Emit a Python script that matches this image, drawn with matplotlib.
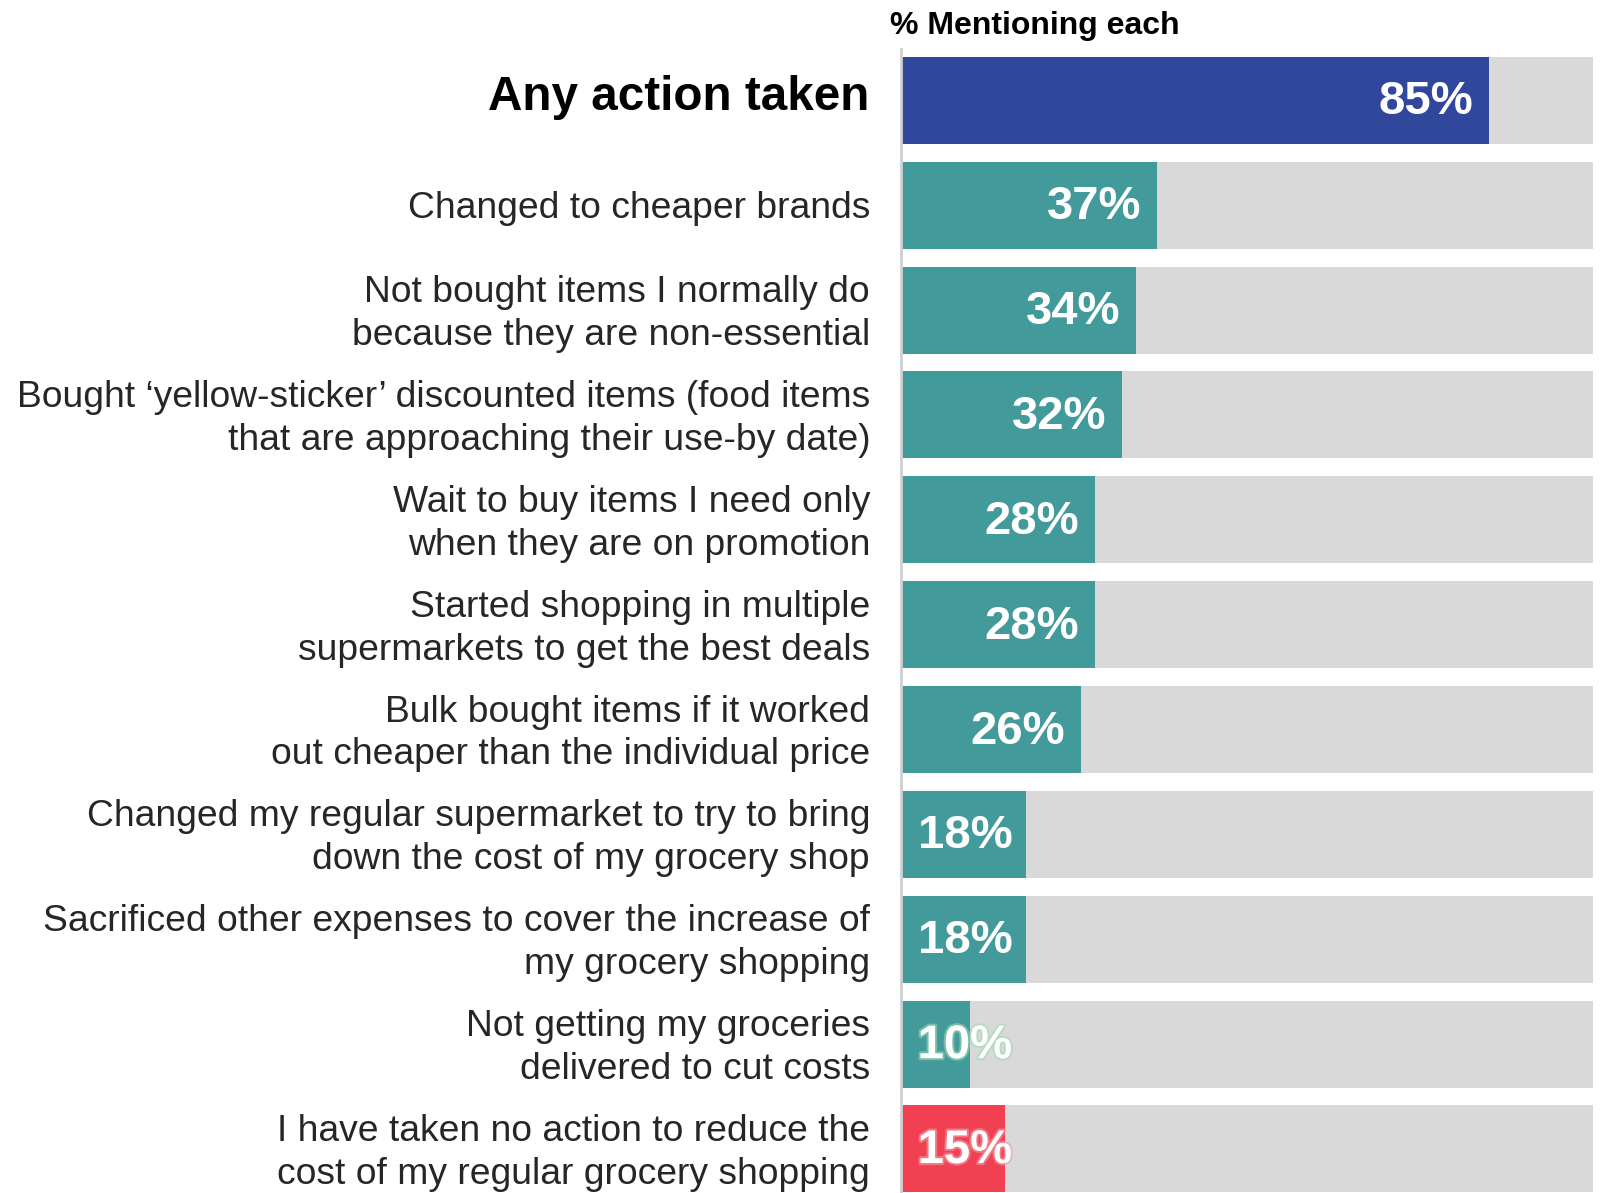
import matplotlib.pyplot as plt
import matplotlib.patheffects as pe
import numpy as np

plt.rcParams['font.family'] = ['Liberation Sans', 'DejaVu Sans']

labels = [
    'Any action taken',
    'Changed to cheaper brands',
    'Not bought items I normally do\nbecause they are non-essential',
    'Bought \u2018yellow-sticker\u2019 discounted items (food items\nthat are approaching their use-by date)',
    'Wait to buy items I need only\nwhen they are on promotion',
    'Started shopping in multiple\nsupermarkets to get the best deals',
    'Bulk bought items if it worked\nout cheaper than the individual price',
    'Changed my regular supermarket to try to bring\ndown the cost of my grocery shop',
    'Sacrificed other expenses to cover the increase of\nmy grocery shopping',
    'Not getting my groceries\ndelivered to cut costs',
    'I have taken no action to reduce the\ncost of my regular grocery shopping',
]
values = [85, 37, 34, 32, 28, 28, 26, 18, 18, 10, 15]
colors = ['#30479b'] + ['#439a9a'] * 9 + ['#f04052']
glows = [None] * 9 + ['#9ddcb2', '#f7a0aa']

W, H = 1601, 1193
fig = plt.figure(figsize=(W / 100, H / 100), dpi=100)
ax = fig.add_axes([901 / W, 0, 692 / W, 1 - 49 / H])

y = np.arange(len(values))
ax.barh(y, [100] * len(values), height=0.83, color='#d9d9d9', zorder=1)
ax.barh(y, values, height=0.83, color=colors, zorder=2)

ax.set_xlim(0, 100)
ax.set_ylim(10.42, -0.49)
ax.set_xticks([])
ax.set_yticks([])

# category labels, right aligned left of the bars
for i, lab in enumerate(labels):
    if i == 0:
        ax.annotate(lab, xy=(0, i), xytext=(-32, 3), textcoords='offset pixels',
                    ha='right', va='center', fontsize=34.3, fontweight='bold',
                    color='black', annotation_clip=False)
    else:
        dy = -4 if '\n' in lab else -3
        ax.annotate(lab, xy=(0, i), xytext=(-31, dy), textcoords='offset pixels',
                    ha='right', va='center', fontsize=26.8, color='#262626',
                    linespacing=1.29, annotation_clip=False)

for s in ['top', 'right', 'bottom']:
    ax.spines[s].set_visible(False)
ax.spines['left'].set_color('#d0d0d0')
ax.spines['left'].set_linewidth(2)
ax.spines['left'].set_zorder(3)

for i, v in enumerate(values):
    if v < 20:
        x, ha = 2.4, 'left'
    else:
        x, ha = v - 2.3, 'right'
    t = ax.text(x, i + 0.02, f'{v}%', ha=ha, va='center', color='white',
                fontsize=34, fontweight='bold', zorder=4)
    if glows[i]:
        t.set_path_effects([pe.withStroke(linewidth=3, foreground=glows[i], alpha=0.55)])

fig.text(890 / W, 1 - 34 / H, '% Mentioning each', fontsize=23,
         fontweight='bold', ha='left', va='baseline')

fig.savefig('out.png', dpi=100)
